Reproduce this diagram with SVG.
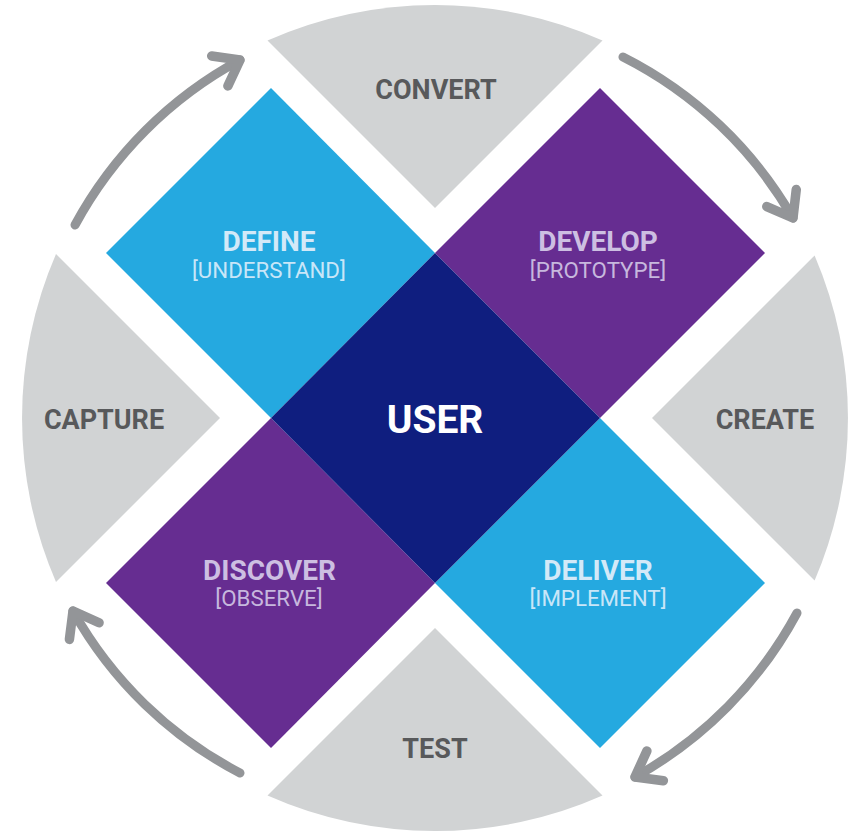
<svg xmlns="http://www.w3.org/2000/svg" width="856" height="834" viewBox="0 0 856 834">
<style>
.wedge{fill:#d1d3d4}
.wl{font-family:Roboto,"Liberation Sans",sans-serif;font-weight:700;font-size:27px;fill:#58595b;text-anchor:middle}
.title{font-family:Roboto,"Liberation Sans",sans-serif;font-weight:700;font-size:28px;text-anchor:middle}
.sub{font-family:Roboto,"Liberation Sans",sans-serif;font-weight:400;font-size:22.3px;text-anchor:middle}
.onblue{fill:#d3e9f8}
.onpurple{fill:#cdbfe2}
.subblue{fill:#c9e6f8}
.subpurple{fill:#c7b8de}
.arrow{fill:none;stroke:#939598;stroke-width:9;stroke-linecap:round;marker-end:url(#ah)}
</style>
<defs>
<marker id="ah" markerUnits="userSpaceOnUse" markerWidth="60" markerHeight="60" viewBox="-40 -30 60 60" refX="0" refY="0" orient="auto" overflow="visible">
<path d="M-23 -17 L0 0 L-23 17" fill="none" stroke="#939598" stroke-width="9.5" stroke-linecap="round" stroke-linejoin="round"/>
</marker>
</defs>
<rect width="856" height="834" fill="#ffffff"/>
<g id="convert">
<path class="wedge" d="M435 208 L267.5 40.5 A413 413 0 0 1 602.5 40.5 Z"/>
<text class="wl" x="436" y="99">CONVERT</text>
</g>
<g id="create">
<path class="wedge" d="M652 418 L814.6 255.4 A413 413 0 0 1 814.6 580.6 Z"/>
<text class="wl" x="765" y="429">CREATE</text>
</g>
<g id="test">
<path class="wedge" d="M435 628 L602.5 795.5 A413 413 0 0 1 267.5 795.5 Z"/>
<text class="wl" x="435" y="758">TEST</text>
</g>
<g id="capture">
<path class="wedge" d="M220 418 L56 582 A413 413 0 0 1 56 254 Z"/>
<text class="wl" x="104" y="429">CAPTURE</text>
</g>
<g id="define">
<path d="M271 88 L435 253 L271 418 L106 253 Z" fill="#25a9e0"/>
<text class="title onblue" x="269" y="251">DEFINE</text>
<text class="sub subblue" x="269" y="278">[UNDERSTAND]</text>
</g>
<g id="develop">
<path d="M600 88 L765 253 L600 418 L435 253 Z" fill="#662d91"/>
<text class="title onpurple" x="598" y="251">DEVELOP</text>
<text class="sub subpurple" x="598" y="278">[PROTOTYPE]</text>
</g>
<g id="discover">
<path d="M271 418 L435 583 L271 748 L106 583 Z" fill="#662d91"/>
<text class="title onpurple" x="269.5" y="580">DISCOVER</text>
<text class="sub subpurple" x="269" y="606">[OBSERVE]</text>
</g>
<g id="deliver">
<path d="M600 418 L765 583 L600 748 L435 583 Z" fill="#25a9e0"/>
<text class="title onblue" x="598" y="580">DELIVER</text>
<text class="sub subblue" x="598" y="606">[IMPLEMENT]</text>
</g>
<g id="user">
<path d="M435 253 L600 418 L435 583 L271 418 Z" fill="#0f1e7f"/>
<text x="435" y="433" font-family="Roboto,'Liberation Sans',sans-serif" font-weight="700" font-size="39" fill="#ffffff" text-anchor="middle">USER</text>
</g>
<g id="connectors">
<path class="arrow" d="M75 225 A409 409 0 0 1 240 60"/>
<path class="arrow" d="M623 57 A409 409 0 0 1 793 218"/>
<path class="arrow" d="M797 613 A410 410 0 0 1 635 777"/>
<path class="arrow" d="M240 773 A407 407 0 0 1 73 611"/>
</g>
</svg>
